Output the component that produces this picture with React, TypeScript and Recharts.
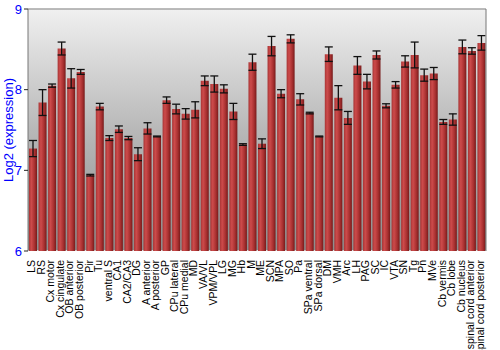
import { Bar, BarChart, CartesianGrid, ErrorBar, ReferenceLine, XAxis, YAxis } from "recharts";

const regions = [
  "LS", "RS", "Cx motor", "Cx cingulate", "OB anterior", "OB posterior", "Pir", "Tu",
  "ventral S", "CA1", "CA2/CA3", "DG", "A anterior", "A posterior", "GP", "CPu lateral",
  "CPu medial", "MD", "VA/VL", "VPM/VPL", "LG", "MG", "Hb", "M", "ME", "SCN", "MPA", "SO",
  "Pa", "SPa ventral", "SPa dorsal", "DM", "VMH", "Arc", "LH", "PAG", "SC", "IC", "VTA",
  "SN", "Tg", "Pn", "MVe", "Cb vermis", "Cb lobe", "Cb nucleus", "spinal cord anterior",
  "spinal cord posterior",
];

const expression = [
  7.27, 7.84, 8.05, 8.51, 8.14, 8.22, 6.94, 7.79,
  7.4, 7.51, 7.4, 7.2, 7.52, 7.42, 7.87, 7.76,
  7.7, 7.75, 8.11, 8.07, 8.01, 7.73, 7.32, 8.34, 7.33, 8.54, 7.95, 8.63,
  7.88, 7.71, 7.42, 8.44, 7.9, 7.65, 8.3, 8.1, 8.43, 7.8, 8.06,
  8.35, 8.43, 8.18, 8.2, 7.6, 7.63, 8.53, 8.48,
  8.58,
];

const stdErr = [
  0.1, 0.16, 0.02, 0.08, 0.12, 0.03, 0.01, 0.04,
  0.03, 0.04, 0.02, 0.08, 0.07, 0.005, 0.04, 0.06,
  0.065, 0.1, 0.06, 0.1, 0.05, 0.1, 0.01, 0.1, 0.06, 0.12, 0.05, 0.05,
  0.07, 0.01, 0.005, 0.09, 0.15, 0.08, 0.11, 0.09, 0.05, 0.025, 0.04,
  0.07, 0.16, 0.075, 0.075, 0.03, 0.07, 0.085, 0.04,
  0.09,
];

const yTicks = [6, 7, 8, 9];

const data = regions.map((name, i) => ({ name, value: expression[i], err: stdErr[i] }));

const FONT = "'Liberation Sans', Arial, sans-serif";

function RotatedTick({ x, y, payload }: any) {
  return (
    <text
      x={x + 2.5}
      y={y}
      transform={`rotate(-90, ${x + 2.5}, ${y})`}
      textAnchor="end"
      fontSize={10.5}
      fontFamily={FONT}
      fill="#000"
    >
      {payload.value}
    </text>
  );
}

export default function App() {
  return (
    <div style={{ position: "absolute", left: 0, top: 0, width: 500, height: 350, background: "#fff" }}>
      <BarChart
        width={500}
        height={350}
        data={data}
        margin={{ top: 9, right: 0, left: 0, bottom: 0 }}
        barCategoryGap={1}
      >
        <defs>
          <linearGradient id="bg" x1="0" y1="0" x2="0" y2="1">
            <stop offset="0%" stopColor="#f0f0f0" />
            <stop offset="50%" stopColor="#b8b8b8" />
            <stop offset="100%" stopColor="#8c8c8c" />
          </linearGradient>
          <linearGradient id="barFill" x1="0" y1="0" x2="1" y2="0">
            <stop offset="0%" stopColor="#a83535" />
            <stop offset="30%" stopColor="#cd4b4b" />
            <stop offset="70%" stopColor="#a83030" />
            <stop offset="100%" stopColor="#771b1b" />
          </linearGradient>
        </defs>
        <CartesianGrid fill="url(#bg)" stroke="#ffffff" strokeWidth={1.5} vertical={false} />
        <XAxis
          dataKey="name"
          interval={0}
          height={99}
          axisLine={false}
          tickLine={false}
          tick={<RotatedTick />}
          tickMargin={3}
        />
        <YAxis
          yAxisId="left"
          domain={[6, 9]}
          ticks={yTicks}
          width={28}
          axisLine={{ stroke: "#777" }}
          tickLine={{ stroke: "#222" }}
          tickSize={4}
          tick={{ fill: "#0000ff", fontSize: 13, fontFamily: FONT }}
          label={() => (
            <text
              x={13}
              y={130}
              transform="rotate(-90, 13, 130)"
              textAnchor="middle"
              fontSize={13}
              fontFamily={FONT}
              fill="#0000ff"
            >
              Log2 (expression)
            </text>
          )}
        />
        <YAxis
          yAxisId="right"
          orientation="right"
          domain={[6, 9]}
          ticks={yTicks}
          width={14}
          axisLine={{ stroke: "#777" }}
          tickLine={{ stroke: "#222" }}
          tickSize={4}
          tick={{ fill: "#0000ff", fontSize: 13, fontFamily: FONT }}
        />
        <ReferenceLine yAxisId="left" y={9} stroke="#777" strokeWidth={1} />
        <Bar yAxisId="left" dataKey="value" fill="url(#barFill)" isAnimationActive={false}>
          <ErrorBar dataKey="err" width={4} stroke="#111" strokeWidth={1.3} direction="y" />
        </Bar>
      </BarChart>
    </div>
  );
}
